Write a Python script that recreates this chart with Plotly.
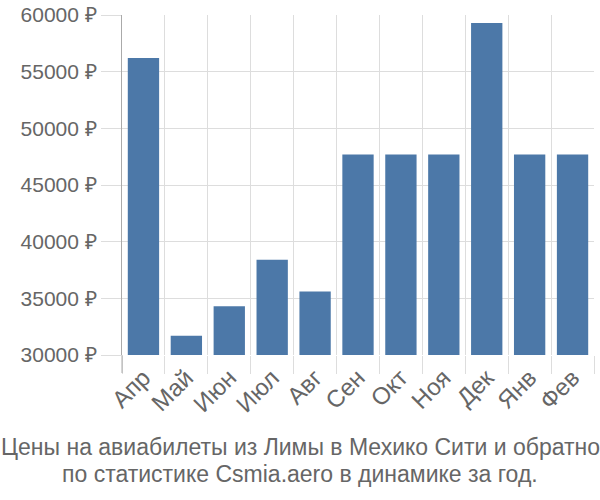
import plotly.graph_objects as go

months = ["Апр", "Май", "Июн", "Июл", "Авг", "Сен", "Окт", "Ноя", "Дек", "Янв", "Фев"]
prices = [56200, 31700, 34300, 38400, 35600, 47700, 47700, 47700, 59300, 47700, 47700]
y_ticks = [30000, 35000, 40000, 45000, 50000, 55000, 60000]
y_labels = [f"{v} ₽" for v in y_ticks]
title_lines = ["Цены на авиабилеты из Лимы в Мехико Сити и обратно",
               "по статистике Csmia.aero в динамике за год."]

L, R, T, B = 122, 6, 15, 145
H = 500
plot_h = H - T - B
bottom_px = H - B
tick_len = 18

fig = go.Figure(go.Bar(
    x=months, y=prices,
    marker=dict(color="#4c78a8", line=dict(width=0)),
))

font = "Liberation Sans, Arial, sans-serif"
title_px = [447, 474]
annotations = []
for line, py in zip(title_lines, title_px):
    annotations.append(dict(
        text=line, x=(300 - L) / (600 - L - R), y=(bottom_px - py) / plot_h,
        xref="paper", yref="paper", xanchor="center", yanchor="middle",
        showarrow=False, font=dict(family=font, size=23, color="#666666"),
    ))

fig.update_layout(
    width=600, height=500,
    margin=dict(l=L, r=R, t=T, b=B),
    plot_bgcolor="white", paper_bgcolor="white",
    bargap=0.27,
    showlegend=False,
    font=dict(family=font, size=21, color="#666666"),
    annotations=annotations,
    shapes=[dict(type="line", xref="paper", yref="paper", x0=0, x1=0,
                 y0=0, y1=-tick_len / plot_h, line=dict(color="#aaaaaa", width=1))],
)
fig.update_xaxes(
    type="category", tickson="boundaries", ticks="outside", ticklen=tick_len,
    tickcolor="#dddddd", showgrid=True, gridcolor="#dddddd", gridwidth=1,
    tickangle=-45, showline=False, zeroline=False, automargin=False,
    ticklabelstandoff=3,
    tickfont=dict(size=24, color="#666666"),
)
fig.update_yaxes(
    range=[30000, 60000], tickvals=y_ticks, ticktext=y_labels,
    ticks="outside", ticklen=20, tickcolor="#dddddd",
    showgrid=True, gridcolor="#dddddd", gridwidth=1, automargin=False,
    showline=True, linecolor="#aaaaaa", linewidth=1, zeroline=False,
    tickfont=dict(size=21, color="#666666"),
)
fig.write_html("out.html")
